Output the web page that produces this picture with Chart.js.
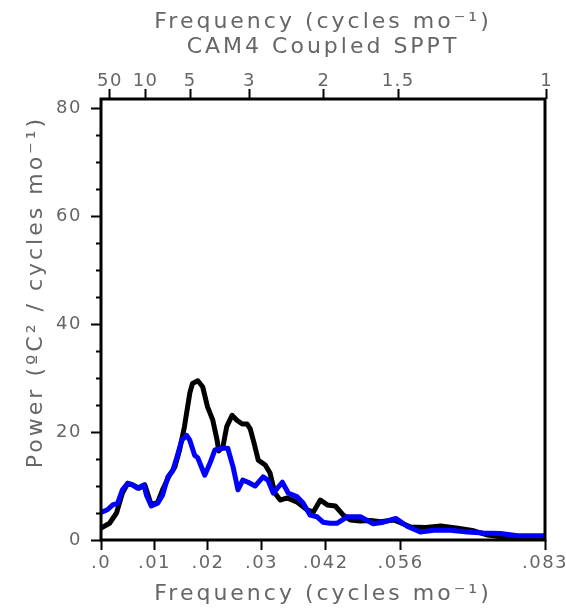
<!DOCTYPE html>
<html>
<head>
<meta charset="utf-8">
<script src="https://cdn.jsdelivr.net/npm/chart.js@4.4.0/dist/chart.umd.min.js"></script>
<style>
html, body { margin: 0; padding: 0; background: #fff; }
</style>
</head>
<body>
<canvas id="myChart" width="566" height="611"></canvas>
<script>
// power spectra, frequency in cycles per month
var blackFreq = [0.0000, 0.0016, 0.0029, 0.0040, 0.0050, 0.0059, 0.0072, 0.0082, 0.0094, 0.0106,
    0.0115, 0.0128, 0.0138, 0.0147, 0.0156, 0.0166, 0.0171, 0.0181, 0.0190, 0.0199,
    0.0209, 0.0217, 0.0220, 0.0228, 0.0235, 0.0245, 0.0254, 0.0264, 0.0273, 0.0279,
    0.0286, 0.0294, 0.0307, 0.0316, 0.0325, 0.0335, 0.0348, 0.0367, 0.0385, 0.0397,
    0.0410, 0.0423, 0.0438, 0.0453, 0.0466, 0.0485, 0.0504, 0.0523, 0.0547, 0.0560,
    0.0579, 0.0607, 0.0635, 0.0667, 0.0697, 0.0723, 0.0747, 0.0785, 0.0830];
var blackPower = [2.2, 3.1, 5.0, 8.7, 10.5, 10.2, 9.6, 10.2, 6.5, 7.0,
    9.3, 12.0, 13.5, 16.7, 21.0, 27.2, 29.0, 29.5, 28.4, 24.7,
    22.2, 18.5, 16.5, 17.3, 21.0, 23.1, 22.2, 21.5, 21.5, 20.6,
    18.0, 14.8, 13.9, 12.4, 8.7, 7.4, 7.8, 7.0, 5.6, 5.2,
    7.4, 6.5, 6.3, 4.6, 3.7, 3.5, 3.6, 3.4, 3.7, 3.2,
    2.4, 2.3, 2.6, 2.2, 1.7, 0.9, 0.6, 0.5, 0.6];

var blueFreq = [0.0000, 0.0012, 0.0022, 0.0031, 0.0040, 0.0050, 0.0059, 0.0068, 0.0080, 0.0085,
    0.0094, 0.0106, 0.0115, 0.0125, 0.0134, 0.0142, 0.0151, 0.0160, 0.0166, 0.0175,
    0.0181, 0.0194, 0.0204, 0.0213, 0.0226, 0.0237, 0.0247, 0.0256, 0.0265, 0.0275,
    0.0288, 0.0303, 0.0312, 0.0322, 0.0339, 0.0350, 0.0367, 0.0378, 0.0391, 0.0404,
    0.0415, 0.0428, 0.0441, 0.0460, 0.0485, 0.0509, 0.0528, 0.0551, 0.0573, 0.0597,
    0.0622, 0.0653, 0.0685, 0.0715, 0.0747, 0.0779, 0.0830];
var bluePower = [5.1, 5.6, 6.5, 6.8, 9.3, 10.5, 10.2, 9.6, 10.2, 8.3,
    6.3, 6.8, 8.3, 11.7, 12.8, 15.4, 18.5, 19.4, 18.5, 15.7,
    15.2, 12.0, 14.3, 16.7, 17.0, 17.0, 13.5, 9.3, 11.1, 10.7,
    10.0, 11.7, 11.1, 8.7, 10.7, 8.7, 8.0, 6.8, 4.6, 4.3,
    3.3, 3.1, 3.1, 4.3, 4.3, 3.0, 3.3, 4.0, 2.5, 1.5,
    1.8, 1.8, 1.5, 1.3, 1.2, 0.8, 0.8];

// axis ticks
var bottomTicks = [0, 0.01, 0.02, 0.03, 0.042, 0.056, 0.083];
var bottomLabels = ['.0', '.01', '.02', '.03', '.042', '.056', '.083'];
var topPeriods = [50, 10, 5, 3, 2, 1.5, 1];   // years
var yTicks = [0, 20, 40, 60, 80];
var yMinor = [5, 10, 15, 25, 30, 35, 45, 50, 55, 65, 70, 75];

// titles
var topTitle = ['Frequency (cycles mo⁻¹)', 'CAM4 Coupled SPPT'];
var xTitle = 'Frequency (cycles mo⁻¹)';
var yTitle = 'Power (ºC² / cycles mo⁻¹)';

function pairs(xs, ys) {
    return xs.map(function (x, i) { return { x: x, y: ys[i] }; });
}

var textColor = '#666';
var fontFam = '"DejaVu Sans", sans-serif';

// wider lettering for tick labels (canvas state is reset on resize, so set it every pass)
const spacingPlugin = {
    id: 'spacing',
    beforeUpdate(chart) { chart.ctx.letterSpacing = '1.5px'; },
    beforeDraw(chart) { chart.ctx.letterSpacing = '1.5px'; }
};

// frame round the plot + short minor ticks on the power axis
const framePlugin = {
    id: 'frame',
    afterDatasetsDraw(chart) {
        const ctx = chart.ctx;
        const a = chart.chartArea;
        const y = chart.scales.y;
        ctx.save();
        ctx.strokeStyle = '#000';
        ctx.lineWidth = 2;
        yMinor.forEach(function (v) {
            const py = Math.round(y.getPixelForValue(v)) + 0.5;
            ctx.beginPath();
            ctx.moveTo(a.left - 5, py);
            ctx.lineTo(a.left, py);
            ctx.stroke();
        });
        ctx.lineWidth = 3;
        ctx.strokeRect(a.left, a.top, a.right - a.left, a.bottom - a.top);
        ctx.restore();
    }
};

// axis titles, spaced out
const titlePlugin = {
    id: 'titles',
    afterDraw(chart) {
        const ctx = chart.ctx;
        const a = chart.chartArea;
        const cx = (a.left + a.right) / 2;
        ctx.save();
        ctx.fillStyle = textColor;
        ctx.font = '22px ' + fontFam;
        ctx.letterSpacing = '3px';
        ctx.textAlign = 'center';
        ctx.textBaseline = 'middle';
        ctx.fillText(topTitle[0], cx, 22);
        ctx.fillText(topTitle[1], cx, 47);
        ctx.fillText(xTitle, cx, 594);
        ctx.translate(36, 292);
        ctx.rotate(-Math.PI / 2);
        ctx.fillText(yTitle, 0, 0);
        ctx.restore();
    }
};

const tickGrid = {
    drawOnChartArea: false,
    drawTicks: true,
    tickLength: 10,
    tickColor: '#000',
    tickWidth: 2
};

// keep the end labels from pushing the plot inwards
function noSidePad(scale) {
    scale.paddingLeft = 0;
    scale.paddingRight = 0;
}

const ctx = document.getElementById('myChart').getContext('2d');
const myChart = new Chart(ctx, {
    type: 'scatter',
    data: {
        datasets: [{
            label: 'blue',
            data: pairs(blueFreq, bluePower),
            showLine: true,
            borderColor: '#0000ff',
            borderWidth: 5,
            pointRadius: 0,
            tension: 0,
            borderJoinStyle: 'round',
            borderCapStyle: 'round'
        }, {
            label: 'black',
            data: pairs(blackFreq, blackPower),
            showLine: true,
            borderColor: '#000',
            borderWidth: 5,
            pointRadius: 0,
            tension: 0,
            borderJoinStyle: 'round',
            borderCapStyle: 'round'
        }]
    },
    options: {
        responsive: false,
        animation: false,
        layout: { padding: { left: 0, right: 21, top: 0, bottom: 0 } },
        plugins: {
            legend: { display: false },
            tooltip: { enabled: false }
        },
        scales: {
            x: {
                type: 'linear',
                position: 'bottom',
                min: 0,
                max: 0.083,
                border: { display: false },
                grid: tickGrid,
                afterBuildTicks: function (scale) {
                    scale.ticks = bottomTicks.map(function (v) { return { value: v }; });
                },
                afterFit: function (scale) { scale.height = 71; noSidePad(scale); },
                ticks: {
                    autoSkip: false,
                    maxRotation: 0,
                    padding: 3,
                    color: textColor,
                    font: { family: fontFam, size: 18 },
                    callback: function (v, i) { return bottomLabels[i]; }
                }
            },
            x2: {
                type: 'linear',
                position: 'top',
                min: 0,
                max: 0.083,
                border: { display: false },
                grid: tickGrid,
                afterBuildTicks: function (scale) {
                    scale.ticks = topPeriods.map(function (p) { return { value: 1 / (12 * p) }; });
                },
                afterFit: function (scale) { scale.height = 99; noSidePad(scale); },
                ticks: {
                    autoSkip: false,
                    maxRotation: 0,
                    padding: -3,
                    color: textColor,
                    font: { family: fontFam, size: 18 },
                    callback: function (v, i) { return String(topPeriods[i]); }
                }
            },
            y: {
                min: 0,
                max: 81.7,
                border: { display: false },
                grid: tickGrid,
                afterBuildTicks: function (scale) {
                    scale.ticks = yTicks.map(function (v) { return { value: v }; });
                },
                afterFit: function (scale) { scale.width = 101; },
                ticks: {
                    padding: 9,
                    color: textColor,
                    font: { family: fontFam, size: 18 }
                }
            }
        }
    },
    plugins: [spacingPlugin, framePlugin, titlePlugin]
});
</script>
</body>
</html>
